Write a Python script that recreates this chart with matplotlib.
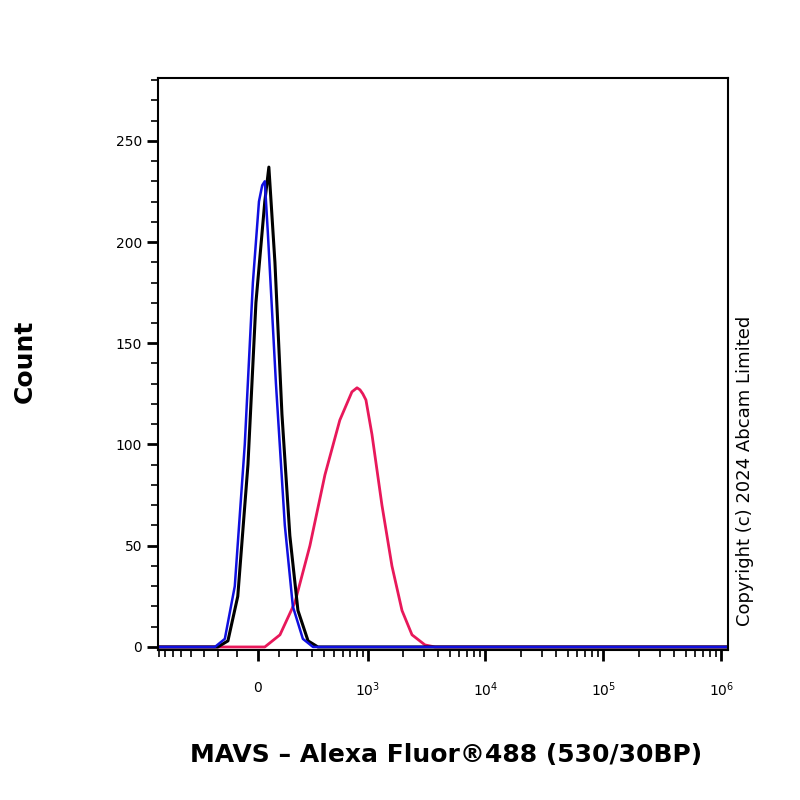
import numpy as np
import matplotlib
matplotlib.use("Agg")
import matplotlib.pyplot as plt

# ============================================================
# data (fluorescence, count)
# ============================================================
black_x = [-900, -204, -146, -95, -46, -9, 32, 51, 80, 115, 157, 204, 270, 344, 1.2e6]
black_y = [0, 0, 3, 25, 90, 170, 220, 237, 190, 115, 55, 18, 3, 0, 0]

blue_x = [-900, -222, -163, -110, -61, -23, 5, 20, 32, 46, 85, 130, 174, 235, 306, 1.2e6]
blue_y = [0, 0, 4, 30, 100, 180, 220, 228, 230, 205, 130, 60, 20, 4, 0, 0]

red_x = [-900, 32, 105, 186, 283, 405, 560, 721, 800, 850, 900, 958, 1081, 1319, 1607,
         1959, 2384, 3075, 3745, 1.2e6]
red_y = [0, 0, 6, 22, 50, 85, 112, 126, 128, 127, 125, 122, 105, 70, 40, 18, 6, 1, 0, 0]

x_major = [0, 1e3, 1e4, 1e5, 1e6]
x_major_labels = ["0", r"$10^3$", r"$10^4$", r"$10^5$", r"$10^6$"]
y_major = [0, 50, 100, 150, 200, 250]

# ============================================================
# plot
# ============================================================
fig = plt.figure(figsize=(8, 8), dpi=100)
ax = fig.add_axes([0.1975, 0.1875, 0.7125, 0.715])

ax.set_xscale("asinh", linear_width=236)

ax.plot(red_x, red_y, color="#e8185a", lw=2, solid_joinstyle="round")
ax.plot(black_x, black_y, color="black", lw=2.2, solid_joinstyle="round")
ax.plot(blue_x, blue_y, color="#1010e0", lw=1.8, solid_joinstyle="round")

ax.set_xlim(-812, 1.14e6)
ax.set_ylim(-1.5, 281)

minor_x = [-800, -700, -600, -500, -400, -300, -200, -100,
           100, 200, 300, 400, 500, 600, 700, 800, 900]
for d in [1e3, 1e4, 1e5]:
    minor_x += [d * k for k in range(2, 10)]
ax.set_xticks(x_major)
ax.set_xticklabels(x_major_labels)
ax.set_xticks(minor_x, minor=True)
ax.set_yticks(y_major)
ax.set_yticks(np.arange(0, 281, 10), minor=True)

ax.tick_params(which="major", length=8, width=2, labelsize=10, direction="out")
ax.tick_params(which="minor", length=5, width=1.2, direction="out")
ax.tick_params(axis="x", pad=14)
for s in ax.spines.values():
    s.set_linewidth(1.5)

fig.text(0.031, 0.548, "Count", rotation=90, ha="center", va="center",
         fontsize=18, fontweight="bold")
fig.text(0.557, 0.056, "MAVS \u2013 Alexa Fluor\u00ae488 (530/30BP)",
         ha="center", va="center", fontsize=18, fontweight="bold")
fig.text(0.931, 0.412, "Copyright (c) 2024 Abcam Limited", rotation=90,
         ha="center", va="center", fontsize=13)

fig.savefig("out.png", dpi=100)
